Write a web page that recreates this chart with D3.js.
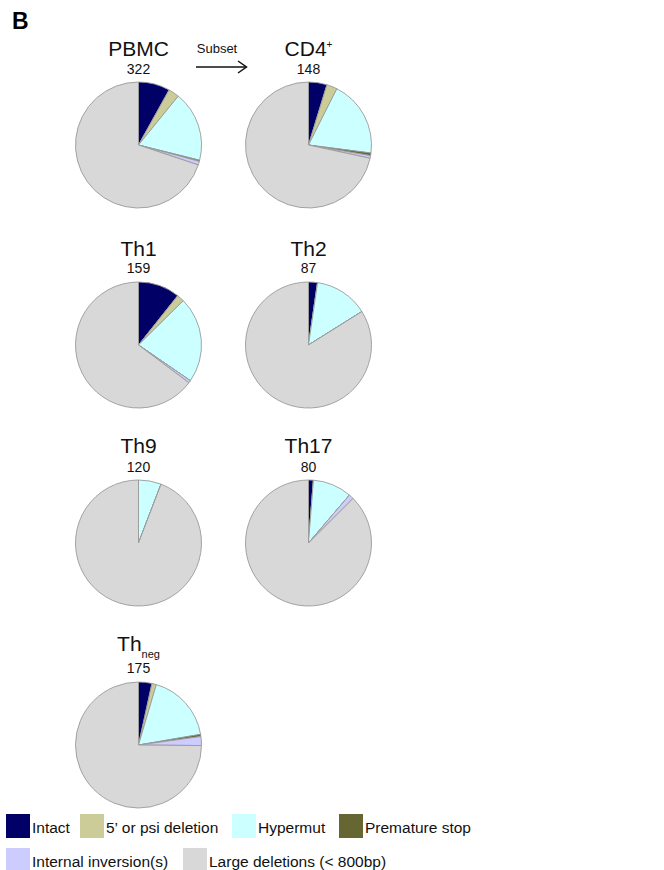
<!DOCTYPE html>
<html><head><meta charset="utf-8">
<script src="https://cdn.jsdelivr.net/npm/d3@7"></script>
<style>body{margin:0;background:#fff}svg{display:block;font-family:"Liberation Sans",Arial,Helvetica,sans-serif}</style>
</head><body>
<svg id="c" width="664" height="870"></svg>
<script>
const categories = ["Intact","5\u2019 or psi deletion","Hypermut","Premature stop","Internal inversion(s)","Large deletions (< 800bp)"];
const colors = ["#000066","#cccc99","#ccffff","#666633","#ccccff","#d8d8d8"];
const panels = ["PBMC","CD4","Th1","Th2","Th9","Th17","Th"];
const totals = [322,148,159,87,120,80,175];
const intact      = [26, 7, 17, 2, 0, 1, 6];
const psiDeletion = [ 9, 4,  3, 0, 0, 0, 2];
const hypermut    = [58,29, 35,12, 7, 8,31];
const prematureStop=[ 1, 1,  0, 0, 0, 0, 1];
const inversion   = [ 3, 1,  1, 0, 0, 1, 4];
const largeDel    = [225,106,103,73,113,70,131];
const series = [intact, psiDeletion, hypermut, prematureStop, inversion, largeDel];

const svg = d3.select("#c");
const R = 63;
const colX = [138.5, 308.5];
const rowY = [145, 345, 543, 745];
const titleOff = [-89, -89, -90, -94];
const numOff = [-71, -72, -71, -72];

svg.append("text").attr("x",12).attr("y",29).attr("font-size",23).attr("font-weight","bold").text("B");

const pie = d3.pie().sort(null).value(d=>d);
const arc = d3.arc().innerRadius(0).outerRadius(R);

panels.forEach((p,i)=>{
  const col = i%2, row = Math.floor(i/2);
  const cx = colX[col], cy = rowY[row];
  const g = svg.append("g").attr("transform",`translate(${cx},${cy})`);
  const vals = series.map(s=>s[i]);
  g.selectAll("path").data(pie(vals)).join("path")
    .attr("d",arc).attr("fill",(d,j)=>colors[j])
    .attr("stroke","#9a9a9a").attr("stroke-width",0.9).attr("stroke-linejoin","round");
  const t = g.append("text").attr("text-anchor","middle").attr("y",titleOff[row]).attr("font-size",21).attr("fill","#111");
  t.append("tspan").text(p);
  if(p==="CD4") t.append("tspan").attr("font-size",10).attr("dy",-8).text("+");
  if(p==="Th") t.append("tspan").attr("font-size",11).attr("dy",7).text("neg");
  g.append("text").attr("text-anchor","middle").attr("y",numOff[row]).attr("font-size",14).attr("fill","#111").text(totals[i]);
});

// Subset arrow
svg.append("text").attr("x",217).attr("y",53).attr("text-anchor","middle").attr("font-size",13).attr("fill","#111").text("Subset");
svg.append("line").attr("x1",196).attr("x2",246).attr("y1",67).attr("y2",67).attr("stroke","#111").attr("stroke-width",1.5);
svg.append("path").attr("d","M238,61 L246.5,67 L238,73").attr("fill","none").attr("stroke","#111").attr("stroke-width",1.5);

// Legend
const legX = [6,80,232,339,6,183];
const legY = [814,814,814,814,848,848];
categories.forEach((c,j)=>{
  svg.append("rect").attr("x",legX[j]).attr("y",legY[j]).attr("width",24).attr("height",24).attr("fill",colors[j]);
  svg.append("text").attr("x",legX[j]+26).attr("y",legY[j]+19).attr("font-size",15.5).attr("fill","#111").text(c);
});
</script>
</body></html>
